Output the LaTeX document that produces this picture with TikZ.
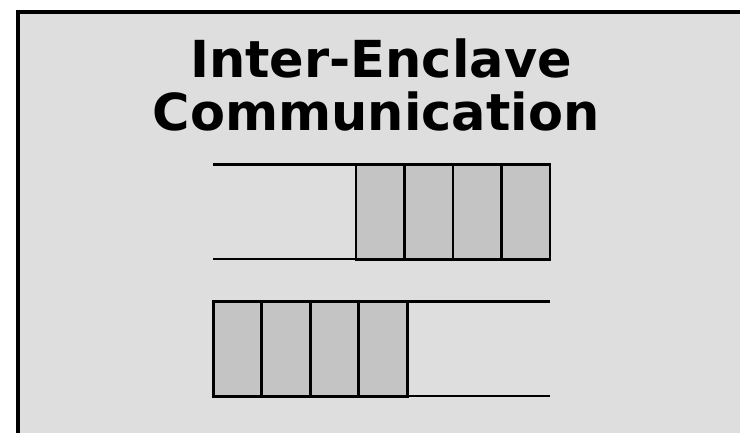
\documentclass[tikz,border=0pt]{standalone}
\usepackage{fontspec}
\setmainfont{DejaVu Sans}
\definecolor{bg}{HTML}{DEDEDE}
\definecolor{cellfill}{HTML}{C4C4C4}
\tikzset{
  cell/.style={draw=black, line width=2.8pt, fill=cellfill, minimum width=48.5pt, minimum height=94.5pt, inner sep=0pt, outer sep=0pt, anchor=north west},
  rail/.style={draw=black, line width=2.5pt},
  title/.style={font=\fontsize{51}{53}\selectfont\bfseries, anchor=base, inner sep=0pt}
}
\begin{document}
\begin{tikzpicture}[x=1pt,y=-1pt]
\useasboundingbox (0,0) rectangle (740,433);
\begin{scope}
\clip (0,0) rectangle (740,433);
\fill[white] (0,0) rectangle (740,433);
\draw[line width=4.5pt, fill=bg] (18,12) rectangle (780,480);
\end{scope}
\node[title] (t1) at (381,78) {Inter-Enclave};
\node[title] (t2) at (376,131) {Communication};
% top queue
\coordinate (a1) at (213,164.7); \coordinate (a2) at (550,164.7);
\coordinate (b1) at (213,259.2); \coordinate (b2) at (550,259.2);
\draw[rail] (a1) -- (a2);
\draw[rail] (b1) -- (b2);
\foreach \i in {0,1,2,3} {
  \node[cell] (q1c\i) at (356+48.5*\i,164.7) {};
}
% bottom queue
\coordinate (c1) at (213,301.7); \coordinate (c2) at (550,301.7);
\coordinate (d1) at (213,396.2); \coordinate (d2) at (550,396.2);
\draw[rail] (c1) -- (c2);
\draw[rail] (d1) -- (d2);
\foreach \i in {0,1,2,3} {
  \node[cell] (q2c\i) at (213.3+48.5*\i,301.7) {};
}
\end{tikzpicture}
\end{document}
